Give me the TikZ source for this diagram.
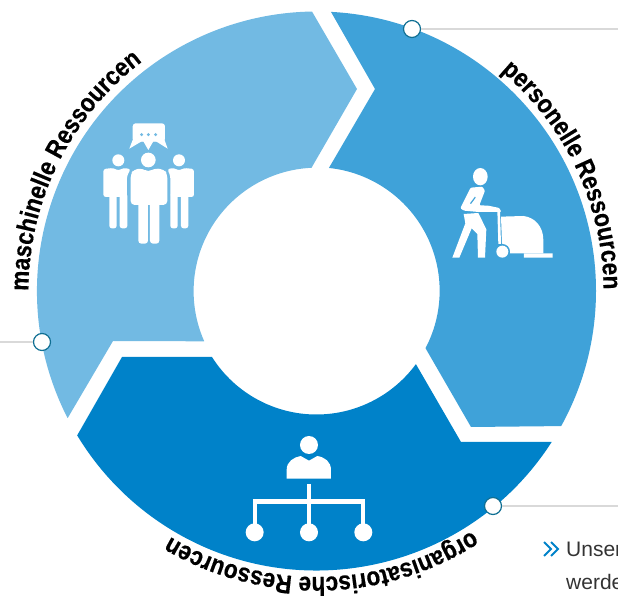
\documentclass[tikz,border=0pt]{standalone}
\usepackage{fontspec}
\setmainfont{Liberation Sans}
\newfontfamily\lblfont[FakeStretch=0.87,FakeBold=0.4]{Liberation Sans}
\usetikzlibrary{decorations.text}
\definecolor{segl}{HTML}{72BAE3}
\definecolor{segm}{HTML}{3FA2D9}
\definecolor{segd}{HTML}{0082C9}
\definecolor{linegray}{HTML}{D9D9D9}
\definecolor{ringc}{HTML}{0F6F93}
\definecolor{txtc}{HTML}{333333}
\tikzset{
  dotmark/.style={circle,draw=ringc,line width=1.2pt,fill=white,minimum size=17pt,inner sep=0pt},
  lead/.style={draw=linegray,line width=1.4pt},
  curvedlbl/.style={decorate,decoration={text along path,text align=left,text={#1}}},
  iconfill/.style={fill=white,draw=none}
}
\newcommand{\lbl}{\lblfont\bfseries\fontsize{26}{26}\selectfont}
\begin{document}
\begin{tikzpicture}[x=1pt,y=1pt]
\useasboundingbox (0,0) rectangle (618,597);
\begin{scope}[yshift=597pt,yscale=-1]
% segments
\fill[segl] (316.5,291) ++(152.93:279.5) arc[start angle=152.93,end angle=269.08,radius=279.5pt]
  -- (357,89) -- (311.5,167.8) arc[start angle=267.4,end angle=156.04,radius=123.5pt] -- (113,341) -- cycle;
\fill[segm] (316.5,291) ++(-87.03:279.5) arc[start angle=-87.03,end angle=28.9,radius=279.5pt]
  -- (471,427) -- (425.5,348.2) arc[start angle=27.7,end angle=-84.07,radius=123.5pt] -- (375,89) -- cycle;
\fill[segd] (316.5,291) ++(32.7:279.5) arc[start angle=32.7,end angle=148.9,radius=279.5pt]
  -- (122,357) -- (212,357) arc[start angle=147.7,end angle=36.3,radius=123.5pt] -- (461,442) -- cycle;
% leaders
\node[dotmark] (dA) at (412,29) {};
\node[dotmark] (dB) at (42,342) {};
\node[dotmark] (dC) at (493,506) {};
\coordinate (eA) at (618,29);
\coordinate (eB) at (0,342);
\coordinate (eC) at (618,506);
\draw[lead] (dA) -- (eA);
\draw[lead] (dB) -- (eB);
\draw[lead] (dC) -- (eC);
% people icon
\begin{scope}[shift={(60,100)},scale=0.3333]
\fill[iconfill,rounded corners=3pt] (218,70) -- (315,70) -- (315,125) -- (218,125) -- cycle;
\fill[iconfill] (222,110) -- (208,146) -- (245,124) -- (250,124) -- (265,150) -- (280,124) -- (288,124) -- (323,146) -- (310,110) -- cycle;
\foreach \q in {245,265,287}{\fill[segl] (\q,104) circle (5);}
\fill[iconfill] (265,180) circle (22);
\fill[iconfill,rounded corners=4pt] (212,315) -- (212,222) -- (222,208) -- (248,205) -- (265,217) -- (282,205) -- (312,208) -- (322,222) -- (322,315) -- cycle;
\fill[iconfill,rounded corners=3pt] (235,300) -- (264,300) -- (264,431) -- (235,431) -- cycle;
\fill[iconfill,rounded corners=3pt] (270,300) -- (298,300) -- (298,431) -- (270,431) -- cycle;
% left person
\fill[iconfill] (175,181) circle (18);
\fill[iconfill,rounded corners=2.5pt] (130,291) -- (130,207) -- (160,204) -- (175,212) -- (190,204) -- (212,207) -- (201,228) -- (201,291) -- cycle;
\fill[iconfill,rounded corners=2.5pt] (148,280) -- (170,280) -- (170,385) -- (148,385) -- cycle;
\fill[iconfill,rounded corners=2.5pt] (179,280) -- (202,280) -- (202,385) -- (179,385) -- cycle;
% right person
\fill[iconfill] (357,181) circle (18);
\fill[iconfill,rounded corners=2.5pt] (402,291) -- (402,207) -- (372,204) -- (357,212) -- (342,204) -- (322,207) -- (331,228) -- (331,291) -- cycle;
\fill[iconfill,rounded corners=2.5pt] (331,280) -- (353,280) -- (353,385) -- (331,385) -- cycle;
\fill[iconfill,rounded corners=2.5pt] (363,280) -- (385,280) -- (385,385) -- (363,385) -- cycle;
\end{scope}
% cleaner icon
\begin{scope}[shift={(420,140)},scale=0.3333]
\fill[iconfill] (181,110) ellipse [x radius=22,y radius=26];
\fill[iconfill,rounded corners=1pt] (152,143) -- (187,140) -- (195,152) -- (178,196) -- (205,197) -- (238,204) -- (244,216) -- (175,216) -- (132,212) -- (121,205) -- cycle;
\fill[segm] (150,190) -- (165,170) -- (167,173) -- (153,192) -- cycle;
\fill[iconfill] (131,222) -- (175,219) -- (199,268) -- (195,353) -- (174,353) -- (172,282) -- (155,265) -- (118,353) -- (97,353) -- (136,250) -- cycle;
\fill[iconfill] (232,210) -- (240,210) -- (243,312) -- (235,312) -- cycle;
\fill[iconfill] (243,230) -- (310,228) .. controls (345,232) and (370,260) .. (370,300) -- (370,340) -- (270,340) -- (246,310) -- cycle;
\fill[iconfill] (342,340) -- (398,340) -- (398,353) -- (312,353) -- (312,340) -- cycle;
\fill[segm] (247,335) circle (23);
\fill[iconfill] (247,335) circle (18);
\end{scope}
% organisation icon
\begin{scope}[shift={(230,420)},scale=0.3333]
\fill[iconfill] (237,75) circle (27);
\fill[iconfill] (170,176) -- (170,150) .. controls (170,125) and (190,112) .. (212,108) -- (237,122) -- (262,108) .. controls (285,112) and (303,125) .. (303,150) -- (303,176) -- cycle;
\fill[iconfill] (231,192) rectangle (244,335);
\fill[iconfill] (68,238) rectangle (406,251);
\fill[iconfill] (68,238) rectangle (81,335);
\fill[iconfill] (393,238) rectangle (406,335);
\fill[iconfill] (74,337) circle (27);
\fill[iconfill] (237,337) circle (27);
\fill[iconfill] (400,337) circle (27);
\end{scope}
% chevrons and text
\draw[segd,line width=1.8pt] (544,542) -- (551,549) -- (544,556);
\draw[segd,line width=1.8pt] (551,542) -- (558,549) -- (551,556);
\node[anchor=base west,inner sep=0pt,text=txtc,font=\fontsize{21}{21}\selectfont] (t1) at (566,556) {Unser};
\node[anchor=base west,inner sep=0pt,text=txtc,font=\fontsize{21}{21}\selectfont] (t2) at (566,589) {werde};
\end{scope}
% curved labels (centre at 316.5,306 in upward coordinates)
\path[curvedlbl={|\lbl|maschinelle Ressourcen}] (316.5,306) ++(180:288) arc[start angle=180,end angle=110,radius=288pt];
\path[curvedlbl={|\lbl|personelle Ressourcen}] (316.5,306) ++(50:287) arc[start angle=50,end angle=-20,radius=287pt];
\path[curvedlbl={|\lbl|organisatorische Ressourcen}] (316.5,306) ++(-57:286) arc[start angle=-57,end angle=-135,radius=286pt];
\end{tikzpicture}
\end{document}
